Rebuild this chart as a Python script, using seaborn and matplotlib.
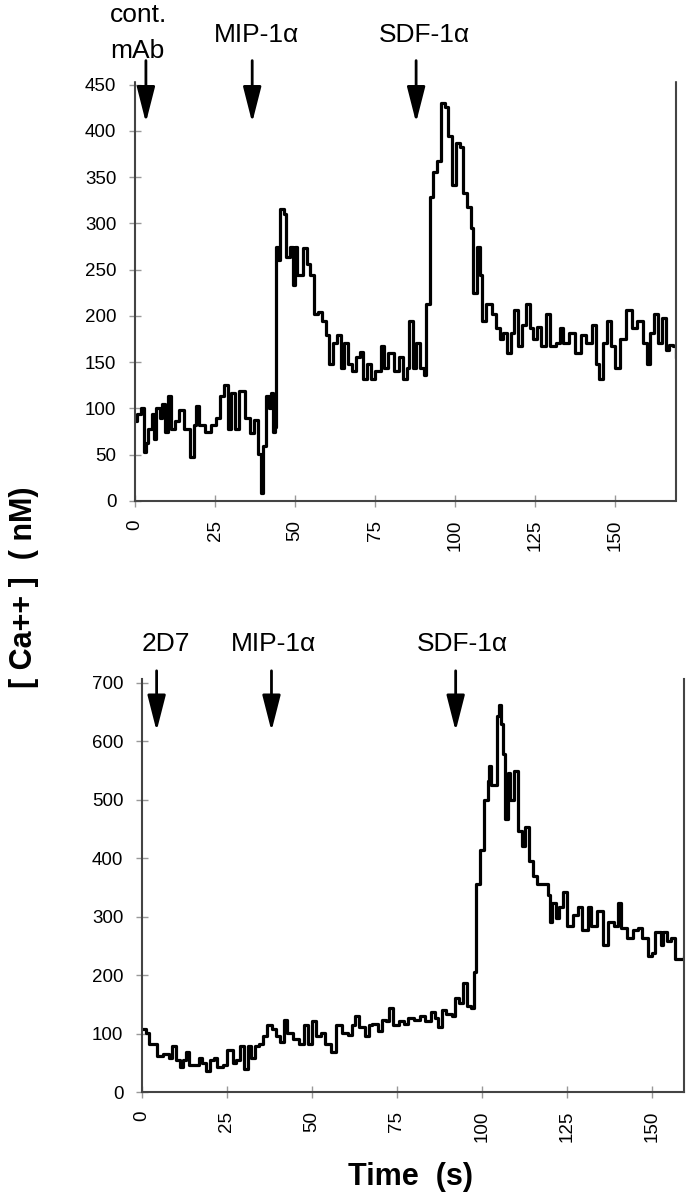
"""
plot.py  Intracellular calcium traces after chemokine additions (two panels).
"""
import matplotlib
matplotlib.use("Agg")
import matplotlib.pyplot as plt
import pandas as pd
import seaborn as sns

# top panel: control mAb, then MIP-1a, then SDF-1a
top_time = [0, 0.6, 1.8, 2.7, 3.5, 4.1, 5.3, 5.9, 6.5, 7.7, 8.3, 9.4, 10.4, 11.2,
            12.4, 13.6, 15.3, 17.1, 18.3, 19.2, 20.0, 21.8, 23.6, 25.4, 26.5,
            27.7, 28.9, 30.0, 31.2, 32.4, 34.2, 36.0, 37.1, 38.3, 39.3, 40.1,
            40.9, 41.9, 42.5, 43.0, 43.7, 44.1, 44.8, 45.4, 46.6, 47.2, 48.3,
            49.2, 50.1, 50.7, 52.5, 53.7, 54.8, 56.0, 57.2, 58.4, 59.6, 60.7,
            61.9, 63.1, 64.3, 65.4, 66.6, 67.8, 69.0, 70.2, 71.3, 72.5, 73.7,
            74.9, 76.7, 77.8, 79.0, 80.8, 82.5, 83.7, 84.9, 85.7, 86.7, 87.9,
            89.0, 90.2, 90.8, 92.0, 93.2, 94.3, 95.5, 96.7, 97.9, 99.0, 100.2,
            101.4, 102.6, 103.8, 105.0, 105.6, 106.7, 107.9, 108.5, 109.7,
            111.5, 112.7, 113.9, 115.0, 116.2, 117.4, 118.5, 119.7, 120.9,
            122.1, 123.3, 124.4, 125.6, 126.8, 128.5, 129.7, 131.5, 132.7,
            133.8, 135.6, 137.4, 139.2, 140.9, 142.7, 143.9, 145.0, 146.2,
            147.4, 148.6, 149.8, 151.5, 153.3, 155.1, 156.8, 158.6, 159.8,
            161.0, 162.1, 163.3, 164.5, 165.7, 166.9, 168.0, 168.9]
top_ca = [86, 94, 101, 53, 63, 78, 94, 67, 101, 90, 105, 75, 113, 78,
          86, 98, 78, 48, 82, 103, 82, 75, 82, 90, 113,
          125, 78, 117, 78, 119, 90, 73, 88, 51, 9, 59,
          113, 101, 117, 75, 80, 275, 260, 316, 310, 264, 275,
          233, 275, 244, 273, 256, 244, 202, 204, 194, 179, 148,
          171, 179, 144, 171, 148, 140, 156, 161, 132, 148, 132,
          140, 167, 144, 160, 140, 156, 132, 144, 194, 144, 171,
          144, 136, 213, 329, 356, 368, 430, 426, 395, 341, 387,
          383, 333, 318, 295, 225, 275, 244, 194, 213,
          202, 187, 175, 182, 160, 182, 206, 167, 190,
          213, 187, 175, 188, 167, 202, 167, 171, 187,
          171, 182, 160, 179, 171, 190, 148, 132, 171,
          194, 167, 144, 175, 206, 187, 194, 171, 148,
          182, 202, 171, 198, 163, 169, 167, 154]

# bottom panel: 2D7, then MIP-1a, then SDF-1a
bottom_time = [0, 1.1, 2.2, 3.3, 4.4, 6.1, 7.8, 8.9, 10.0, 11.1, 12.2, 13.0,
               13.9, 15.6, 16.7, 17.8, 18.9, 20.0, 21.1, 22.2, 23.9, 25.0,
               26.1, 26.7, 27.8, 28.9, 30.0, 31.1, 32.2, 33.3, 34.4, 35.6,
               36.7, 38.3, 39.4, 40.6, 41.9, 42.8, 44.4, 46.1, 47.8, 48.9,
               50.0, 51.1, 52.8, 53.9, 55.6, 57.2, 58.9, 60.6, 61.7, 62.8,
               63.9, 65.6, 66.7, 67.8, 69.4, 70.6, 71.7, 72.8, 73.9, 75.6,
               77.2, 78.3, 80.0, 81.7, 83.3, 85.0, 86.1, 87.2, 88.3, 89.4,
               91.1, 92.2, 93.3, 94.4, 95.6, 96.7, 97.8, 98.3, 99.4, 100.6,
               101.7, 102.2, 102.8, 103.9, 104.4, 105.0, 105.6, 106.1, 106.7,
               107.8, 108.3, 109.4, 110.6, 111.7, 112.8, 113.9, 115.0, 116.1,
               117.8, 119.4, 120.0, 120.6, 121.7, 122.8, 123.9, 125.0, 126.7,
               128.3, 129.4, 131.1, 132.2, 133.9, 135.6, 137.2, 138.9, 140.0,
               141.1, 142.8, 144.4, 146.1, 147.2, 148.9, 150.0, 151.1, 152.8,
               153.3, 154.4, 155.6, 156.7, 158.3, 159.4]
bottom_ca = [108, 101, 82, 82, 62, 65, 59, 78, 55, 42, 55, 68,
             46, 46, 59, 49, 36, 55, 59, 42, 46, 72,
             72, 49, 55, 78, 39, 78, 59, 78, 82, 95,
             114, 108, 95, 85, 124, 101, 91, 82, 114, 82,
             121, 95, 101, 82, 68, 114, 101, 98, 114, 130,
             111, 95, 114, 117, 104, 124, 121, 144, 114, 121,
             117, 127, 124, 130, 121, 137, 127, 111, 140, 134,
             130, 160, 153, 186, 147, 144, 205, 356, 414, 499,
             532, 558, 525, 525, 643, 662, 629, 577, 466,
             545, 499, 548, 447, 421, 453, 395, 369, 356,
             356, 336, 290, 323, 297, 316, 342, 284, 303,
             316, 277, 316, 284, 310, 251, 290, 284, 323,
             280, 264, 277, 280, 264, 232, 238, 274, 251,
             274, 258, 264, 228, 228, 232]

top_events = ["cont.\nmAb", "MIP-1\u03b1", "SDF-1\u03b1"]
top_event_times = [3.4, 36.6, 87.8]
bottom_events = ["2D7", "MIP-1\u03b1", "SDF-1\u03b1"]
bottom_event_times = [4.3, 38.1, 92.3]

x_ticks = [0, 25, 50, 75, 100, 125, 150]

sns.set_style("white")
plt.rcParams["font.family"] = ["Liberation Sans", "DejaVu Sans"]
plt.rcParams["text.color"] = "black"
plt.rcParams["xtick.labelcolor"] = "black"
plt.rcParams["ytick.labelcolor"] = "black"

fig = plt.figure(figsize=(6.91, 11.99), dpi=100)
ax_top = fig.add_axes([0.1954, 0.5822, 0.783, 0.3495])
ax_bot = fig.add_axes([0.2055, 0.0892, 0.7844, 0.3445])

df_top = pd.DataFrame({"t": top_time, "ca": top_ca})
df_bot = pd.DataFrame({"t": bottom_time, "ca": bottom_ca})

sns.lineplot(data=df_top, x="t", y="ca", ax=ax_top, color="black", lw=2.3,
             estimator=None, drawstyle="steps-post")
sns.lineplot(data=df_bot, x="t", y="ca", ax=ax_bot, color="black", lw=2.3,
             estimator=None, drawstyle="steps-post")


def style_axis(ax, xmax, ymax, yticks):
    ax.set_xlim(0, xmax)
    ax.set_ylim(0, ymax)
    ax.set_xticks(x_ticks)
    ax.set_yticks(yticks)
    ax.set_xticklabels([str(v) for v in x_ticks], rotation=90)
    ax.set_xlabel("")
    ax.set_ylabel("")
    ax.spines["top"].set_visible(False)
    for side in ("left", "bottom", "right"):
        ax.spines[side].set_visible(True)
        ax.spines[side].set_linestyle((0, (1, 1)))
        ax.spines[side].set_linewidth(1.5)
        ax.spines[side].set_color("#444444")
    ax.tick_params(axis="both", direction="inout", length=9, width=1,
                   color="#999999", labelsize=13.5, pad=9,
                   left=True, bottom=True, right=False, top=False)


style_axis(ax_top, 169, 453, list(range(0, 451, 50)))
style_axis(ax_bot, 159.5, 706, list(range(0, 701, 100)))

arrow_kw = dict(arrowstyle="-|>,head_length=1.1,head_width=0.28",
                color="black", lw=2, mutation_scale=20, shrinkA=0, shrinkB=0)

# top panel event arrows and labels
for t in top_event_times:
    ax_top.annotate("", xy=(t, 409), xytext=(t, 476), arrowprops=arrow_kw,
                    annotation_clip=False)
ax_top.text(-7.8, 525, "cont.", fontsize=19, ha="left", va="center")
ax_top.text(-7.8, 486, "mAb", fontsize=19, ha="left", va="center")
ax_top.text(37.8, 504, top_events[1], fontsize=19, ha="center", va="center")
ax_top.text(90.3, 504, top_events[2], fontsize=19, ha="center", va="center")

# bottom panel event arrows and labels
for t in bottom_event_times:
    ax_bot.annotate("", xy=(t, 617), xytext=(t, 720), arrowprops=arrow_kw,
                    annotation_clip=False)
for label, lx in zip(bottom_events, [7.1, 38.8, 94.4]):
    ax_bot.text(lx, 765, label, fontsize=19, ha="center", va="center")

fig.text(24 / 691, 1 - 587 / 1199, "[ Ca++ ]  ( nM)", rotation=90, fontsize=22,
         fontweight="bold", ha="center", va="center")
fig.text(411 / 691, 1 - 1177 / 1199, "Time  (s)", fontsize=22,
         fontweight="bold", ha="center", va="center")

fig.savefig("out.png", dpi=100)
